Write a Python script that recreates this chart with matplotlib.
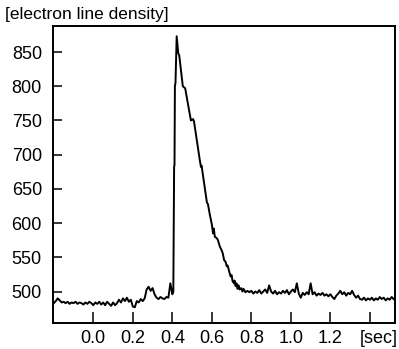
import numpy as np
import matplotlib.pyplot as plt
import matplotlib.transforms as mtransforms

plt.rcParams['font.family'] = ['Liberation Sans', 'DejaVu Sans']

# sampled trace before the jump: t = -0.20 .. 0.40, step 0.01
pre_start = -0.20
pre_step = 0.01
pre_v = [483, 486, 490, 487, 484, 485, 483, 485, 482, 484,
         483, 485, 482, 484, 483, 481, 484, 482, 485, 483,
         480, 484, 482, 485, 481, 484, 480, 485, 482, 479,
         484, 480, 483, 488, 484, 490, 486, 491, 485, 488,
         478, 477, 486, 484, 489, 486, 490, 503, 507, 501,
         505, 496, 491, 489, 492, 490, 489, 492, 491, 512,
         496]

# peak and decay, read point by point
peak_t = [0.405, 0.407, 0.409, 0.411, 0.413, 0.416, 0.422, 0.430, 0.435, 0.453,
          0.465, 0.494, 0.505, 0.510, 0.540, 0.545, 0.548, 0.575, 0.580, 0.590,
          0.600, 0.606, 0.610, 0.615, 0.625, 0.631, 0.640, 0.650, 0.655, 0.662,
          0.670, 0.675, 0.680, 0.687, 0.690, 0.695, 0.700, 0.705, 0.712, 0.715,
          0.720, 0.725, 0.730, 0.735, 0.740, 0.748, 0.755, 0.760, 0.770, 0.780]
peak_v = [500, 600, 682, 685, 800, 805, 873, 848, 845, 800,
          797, 750, 752, 748, 690, 682, 684, 630, 628, 612,
          598, 585, 592, 580, 578, 575, 566, 560, 556, 546,
          543, 537, 538, 530, 527, 522, 524, 515, 512, 516,
          508, 512, 504, 509, 503, 505, 500, 504, 499, 501]

# tail: t = 0.79 .. 1.53, step 0.01
post_start = 0.79
post_step = 0.01
post_v = [499, 501, 497, 500, 498, 502, 497, 500, 503, 498,
          509, 500, 497, 501, 496, 499, 497, 501, 498, 502,
          496, 500, 503, 499, 512, 497, 491, 498, 495, 499,
          496, 512, 496, 499, 494, 497, 495, 498, 494, 496,
          493, 496, 492, 489, 494, 497, 501, 496, 499, 494,
          498, 496, 501, 495, 491, 494, 489, 488, 491, 487,
          490, 488, 491, 487, 490, 488, 492, 489, 491, 487,
          490, 488, 492, 489, 487]

x_ticks = [0.0, 0.2, 0.4, 0.6, 0.8, 1.0, 1.2, 1.4]
x_labels = ['0.0', '0.2', '0.4', '0.6', '0.8', '1.0', '1.2', '']
y_ticks = [500, 550, 600, 650, 700, 750, 800, 850]

pre_t = pre_start + pre_step * np.arange(len(pre_v))
post_t = post_start + post_step * np.arange(len(post_v))
t = np.concatenate([pre_t, peak_t, post_t])
v = np.concatenate([pre_v, peak_v, post_v])

fig = plt.figure(figsize=(3.99, 3.49), dpi=100)
ax = fig.add_axes([53 / 399, 26 / 349, 342 / 399, 297 / 349])

ax.plot(t, v, color='black', linewidth=1.4)

ax.set_xlim(-0.204, 1.527)
ax.set_ylim(454, 888)
ax.set_xticks(x_ticks)
ax.set_xticklabels(x_labels)
ax.set_yticks(y_ticks)

for s in ax.spines.values():
    s.set_linewidth(1.4)
ax.tick_params(axis='x', direction='in', length=8, width=1.1, pad=5, labelsize=13)
ax.tick_params(axis='y', direction='in', length=6.5, width=1.1, pad=8, labelsize=13)

trans = mtransforms.blended_transform_factory(ax.transData, ax.transAxes)
ax.text(1.445, -0.0236, '[sec]', transform=trans, ha='center', va='top', fontsize=13)

fig.text(5 / 399, 1 - 19 / 349, '[electron line density]', ha='left', va='baseline', fontsize=12.5)

fig.savefig('out.png', dpi=100)
